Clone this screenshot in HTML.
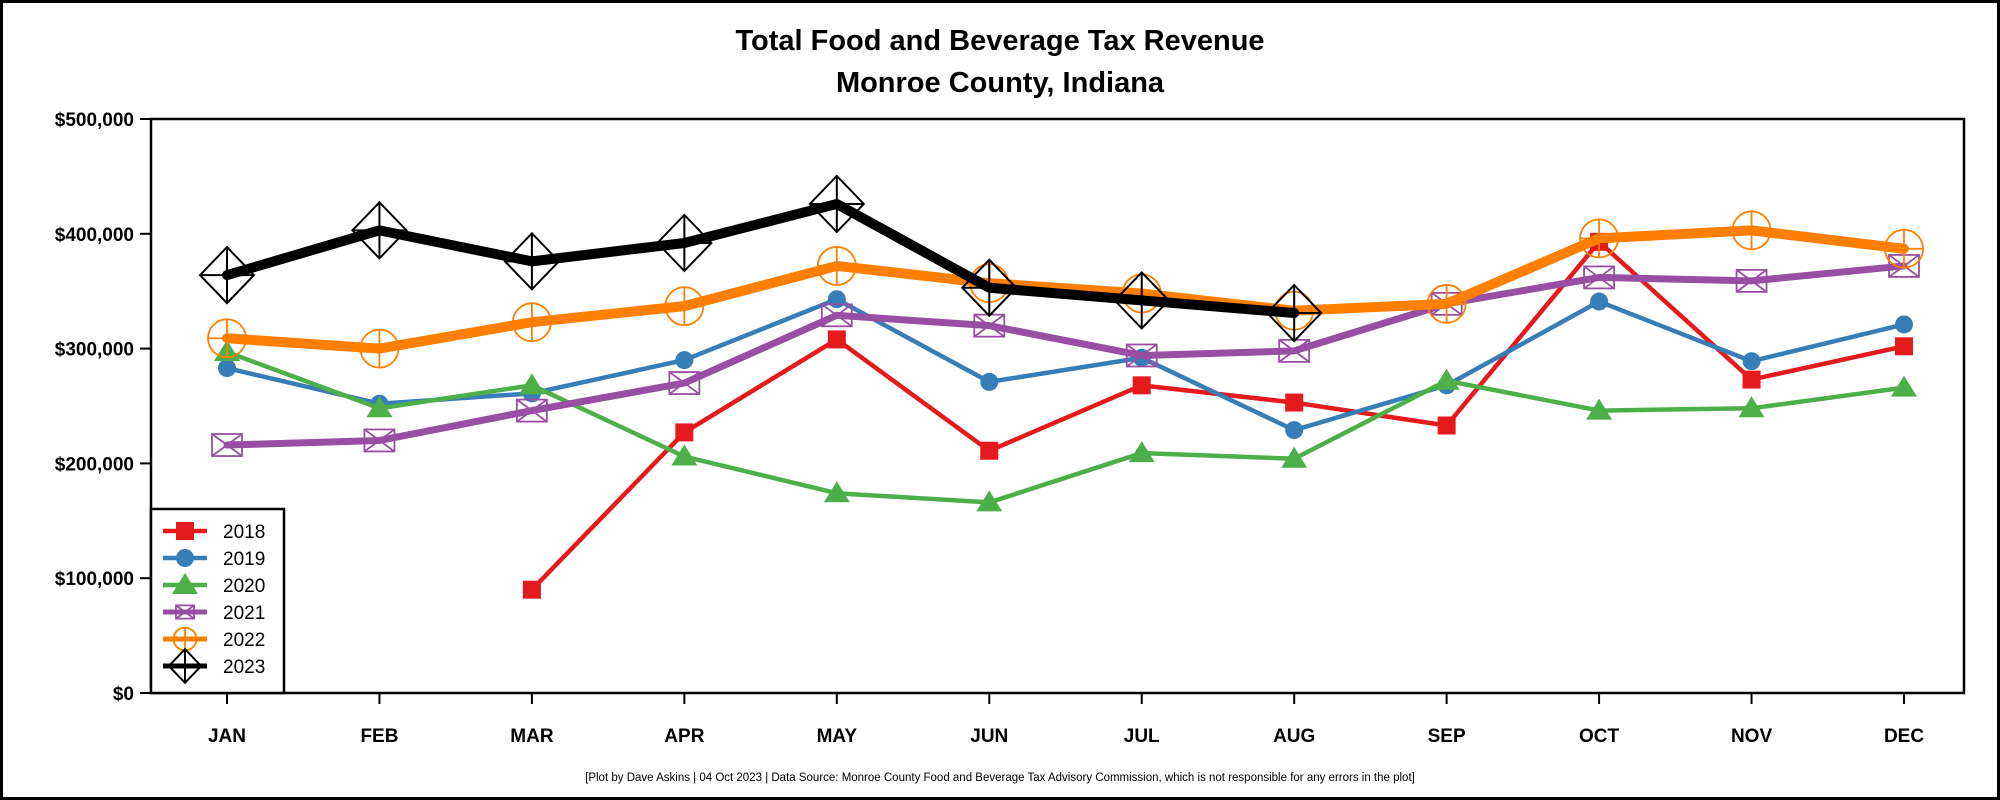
<!DOCTYPE html>
<html><head><meta charset="utf-8"><style>
html,body{margin:0;padding:0;background:#fff;}
svg{display:block;font-family:"Liberation Sans",Arial,sans-serif;}
</style></head><body>
<svg id="chart" width="2000" height="800" viewBox="0 0 2000 800">
<rect x="1.5" y="1.5" width="1997" height="797" fill="#fff" stroke="#000" stroke-width="3"/>
<text x="1000" y="50" text-anchor="middle" font-size="29" font-weight="bold">Total Food and Beverage Tax Revenue</text>
<text x="1000" y="92" text-anchor="middle" font-size="29" font-weight="bold">Monroe County, Indiana</text>
<text x="1000" y="781" text-anchor="middle" font-size="11.5">[Plot by Dave Askins | 04 Oct 2023 | Data Source: Monroe County Food and Beverage Tax Advisory Commission, which is not responsible for any errors in the plot]</text>
<rect x="151" y="119" width="1813" height="574" fill="none" stroke="#000" stroke-width="2.5"/>
<g id="axes"></g>
<g id="series"></g>
<g id="legend"></g>
</svg>
<script>
const months = ["JAN","FEB","MAR","APR","MAY","JUN","JUL","AUG","SEP","OCT","NOV","DEC"];
const yTicks = [0,100000,200000,300000,400000,500000];
const yTickLabels = ["$0","$100,000","$200,000","$300,000","$400,000","$500,000"];
const years = ["2018","2019","2020","2021","2022","2023"];
const v2018 = [null,null,90000,227000,308000,211000,268000,253000,233000,393000,273000,302000];
const v2019 = [283000,252000,261000,290000,343000,271000,292000,229000,268000,341000,289000,321000];
const v2020 = [297000,248000,268000,206000,174000,166000,209000,204000,272000,246000,248000,266000];
const v2021 = [216000,220000,246000,270000,329000,320000,294000,298000,339000,362000,359000,372000];
const v2022 = [309000,300000,323000,337000,372000,357000,348000,333000,339000,396000,403000,387000];
const v2023 = [364000,403000,376000,392000,426000,353000,342000,331000,null,null,null,null];

const NS="http://www.w3.org/2000/svg";
function mk(tag, attrs, parent){const e=document.createElementNS(NS,tag);for(const k in attrs)e.setAttribute(k,attrs[k]);parent.appendChild(e);return e;}
const x = i => 227 + i*(1904-227)/11;
const y = v => 693 - v/500000*574;

const axes=document.getElementById('axes');
yTicks.forEach((t,i)=>{
  const ln=mk('line',{x1:140,x2:151,y1:y(t),y2:y(t),stroke:'#000','stroke-width':2},axes);
  
  
  const tx=mk('text',{x:134,y:y(t)+7,'text-anchor':'end','font-size':19,'font-weight':'bold'},axes);
  tx.textContent=yTickLabels[i];
  
  
});
months.forEach((m,i)=>{
  const ln=mk('line',{x1:x(i),x2:x(i),y1:693,y2:704,stroke:'#000','stroke-width':2},axes);
  
  
  const tx=mk('text',{x:x(i),y:742,'text-anchor':'middle','font-size':19,'font-weight':'bold'},axes);
  tx.textContent=m;
  
  
});

const styles=[
 {c:'#e41a1c',w:4.5,m:'square'},
 {c:'#377eb8',w:4.5,m:'circle'},
 {c:'#4daf4a',w:4.5,m:'triangle'},
 {c:'#984ea3',w:7,m:'boxx'},
 {c:'#ff7f00',w:10,m:'circplus'},
 {c:'#000',w:10,m:'diamond'}
];
const data=[v2018,v2019,v2020,v2021,v2022,v2023];

function marker(g,type,cx,cy,c,s){
  s=s||1;
  if(type==='square') mk('rect',{x:cx-9*s,y:cy-9*s,width:18*s,height:18*s,fill:c},g);
  else if(type==='circle') mk('circle',{cx:cx,cy:cy,r:9*s,fill:c},g);
  else if(type==='triangle') mk('polygon',{points:`${cx},${cy-12*s} ${cx-13*s},${cy+9*s} ${cx+13*s},${cy+9*s}`,fill:c},g);
  else if(type==='boxx'){const w=15*s,h=11*s;
    mk('rect',{x:cx-w,y:cy-h,width:2*w,height:2*h,fill:'none',stroke:c,'stroke-width':1.8},g);
    mk('path',{d:`M${cx-w},${cy-h}L${cx+w},${cy+h}M${cx-w},${cy+h}L${cx+w},${cy-h}`,stroke:c,'stroke-width':1.8,fill:'none'},g);}
  else if(type==='circplus'){const r=19*s;
    mk('circle',{cx:cx,cy:cy,r:r,fill:'none',stroke:c,'stroke-width':1.8},g);
    mk('path',{d:`M${cx-r},${cy}H${cx+r}M${cx},${cy-r}V${cy+r}`,stroke:c,'stroke-width':1.8},g);}
  else if(type==='diamond'){const w=27*s,h=28*s;
    mk('polygon',{points:`${cx},${cy-h} ${cx+w},${cy} ${cx},${cy+h} ${cx-w},${cy}`,fill:'none',stroke:c,'stroke-width':2},g);
    mk('path',{d:`M${cx-w},${cy}H${cx+w}M${cx},${cy-h}V${cy+h}`,stroke:c,'stroke-width':2},g);}
}

const sg=document.getElementById('series');
data.forEach((arr,k)=>{
  const st=styles[k];
  const g=mk('g',{},sg);
  
  
  let d='',pen=false;
  arr.forEach((v,i)=>{ if(v==null){pen=false;return;} d+=(pen?'L':'M')+x(i)+','+y(v); pen=true; });
  const p=mk('path',{d:d,fill:'none',stroke:st.c,'stroke-width':st.w,'stroke-linejoin':'round','stroke-linecap':'round'},g);
  
  
  arr.forEach((v,i)=>{ if(v==null)return;
    const mg=mk('g',{},g);
    
    
    marker(mg,st.m,x(i),y(v),st.c);
  });
});

const lg=document.getElementById('legend');
const box=mk('rect',{x:151,y:509,width:133,height:184,fill:'#fff',stroke:'#000','stroke-width':2.5},lg);


years.forEach((yr,k)=>{
  const st=styles[k];
  const cy=531+k*27;
  const g=mk('g',{},lg);
  
  
  mk('line',{x1:163,x2:207,y1:cy,y2:cy,stroke:st.c,'stroke-width':Math.min(st.w,5)},g);
  marker(g,st.m,185,cy,st.c,k>=3?0.6:1);
  const t=mk('text',{x:223,y:cy+7,'font-size':19},g);
  t.textContent=yr;
});
</script>
</body></html>
